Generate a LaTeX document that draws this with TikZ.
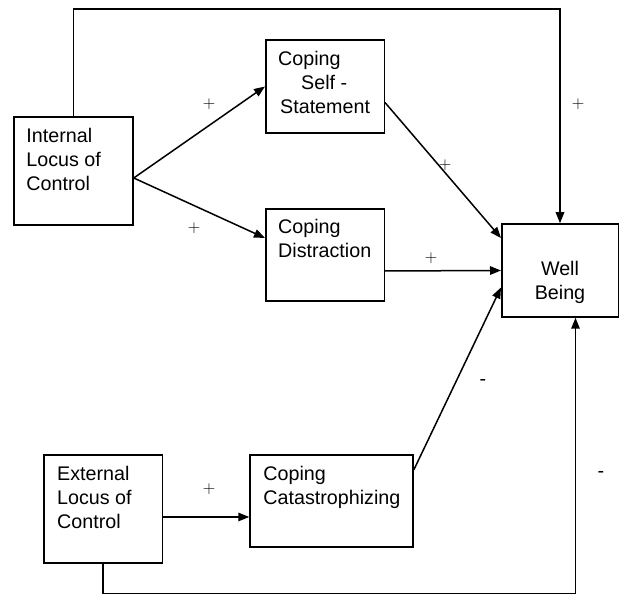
\documentclass[tikz,border=0pt]{standalone}
\usepackage{fontspec}
\setmainfont{Liberation Sans}
\usetikzlibrary{arrows.meta,positioning}
\tikzstyle{box} = [draw, rectangle, line width=1.5pt, minimum width=118.5pt,
    minimum height=93pt, inner sep=0pt]
\tikzstyle{txt} = [inner sep=0pt, align=left, anchor=north west,
    font=\fontsize{19.7}{23.7}\selectfont]
\tikzstyle{arr} = [-{Triangle[length=11pt,width=8.5pt]}, line width=1.5pt]
\tikzstyle{sign} = [inner sep=0pt, font=\fontsize{17}{17}\selectfont]

\begin{document}
\begin{tikzpicture}[x=1pt, y=1pt]
  \useasboundingbox (0,0) rectangle (619,596);
  % Place nodes
  \node [box, minimum width=119pt, minimum height=108pt,
    label={[txt, xshift=13pt, yshift=-12pt]north west:Internal\\Locus of\\Control}] (int) at (73.5,425) {};
  \node [box, label={[txt, xshift=13pt, yshift=-12pt]north west:Coping\\\hspace*{23pt}Self -\\\hspace*{2pt}Statement}] (css) at (325,509.5) {};
  \node [box, below of=css, node distance=168.5pt, minimum height=92pt,
    label={[txt, xshift=13pt, yshift=-11pt]north west:Coping\\Distraction}] (cd) {};
  \node [box, minimum width=116.5pt,
    label={[txt, anchor=north, align=center, yshift=-38pt]north:Well\\Being}] (wb) at (560,325.5) {};
  \node [box, minimum height=108pt,
    label={[txt, xshift=14pt, yshift=-12pt]north west:External\\Locus of\\Control}] (ext) at (103,87) {};
  \node [box, minimum width=163pt, minimum height=92pt,
    label={[txt, xshift=14pt, yshift=-12pt]north west:Coping\\Catastrophizing}] (cc) at (331.5,95) {};
  % Signs
  \node [sign] (p1) at (209,492) {$+$};
  \node [sign] (p2) at (194,368) {$+$};
  \node [sign] (p3) at (445,431) {$+$};
  \node [sign] (p4) at (431,338) {$+$};
  \node [sign] (p5) at (578,492) {$+$};
  \node [sign] (p6) at (209,107) {$+$};
  \node [sign, font=\fontsize{19.7}{19}\selectfont] (m1) at (483,213) {-};
  \node [sign, font=\fontsize{19.7}{19}\selectfont] (m2) at (601,121) {-};
  % Connectors
  \draw [arr] ([yshift=-7pt]int.east) -- (css.west);
  \draw [arr] ([yshift=-7pt]int.east) -- ([yshift=17pt]cd.west);
  \draw [arr] ([yshift=-16pt]css.east) -- ([yshift=32.5pt]wb.west);
  \draw [arr] ([yshift=-16pt]cd.east) -- (wb.west);
  \draw [arr] ([yshift=31pt]cc.east) -- ([yshift=-17pt]wb.west);
  \draw [arr] ([yshift=-8pt]ext.east) -- ([yshift=-8pt]ext.east -| cc.west);
  \draw [arr] (int.north) -- ++(0,107) -| (wb.north);
  \draw [arr] (ext.south) -- ++(0,-30) -| ([xshift=15.5pt]wb.south);
\end{tikzpicture}
\end{document}
